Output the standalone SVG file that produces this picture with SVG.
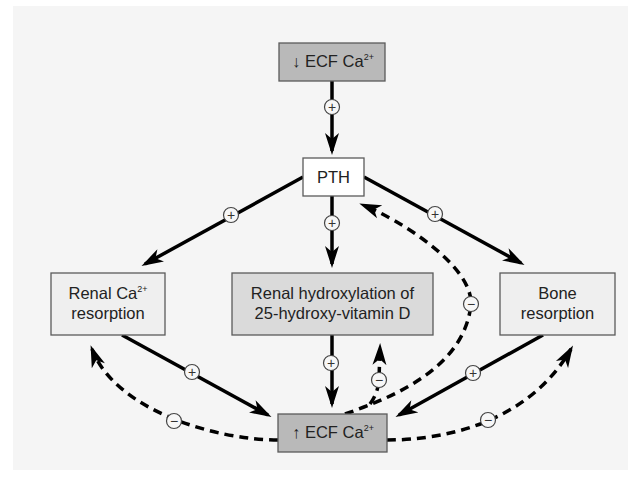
<svg xmlns="http://www.w3.org/2000/svg" width="639" height="477" viewBox="0 0 639 477">
<style>
.box{stroke:#5a5a5a;stroke-width:1.3}
.dark{fill:#b9b9b9}
.mid{fill:#dadada}
.light{fill:#efefef}
.white{fill:#ffffff}
.t{font-family:"Liberation Sans",Arial,"DejaVu Sans",sans-serif;font-size:16.5px;fill:#222;text-anchor:middle}
.sup{font-size:9px}
.ln{fill:none;stroke:#000;stroke-width:3.5;marker-end:url(#ah)}
.dash{stroke-dasharray:9 6}
.c{fill:#f7f7f7;stroke:#444;stroke-width:1.2}
.s{font-family:"Liberation Sans",Arial,"DejaVu Sans",sans-serif;font-size:14px;fill:#333;text-anchor:middle;dominant-baseline:central}
</style>
<defs>
<marker id="ah" markerUnits="userSpaceOnUse" markerWidth="22" markerHeight="16" viewBox="0 0 22 16" refX="18" refY="8" orient="auto">
<path d="M0,1 L22,8 L0,15 L6,8 Z" fill="#000"/>
</marker>
</defs>
<rect x="13" y="6" width="615" height="464" fill="#f5f5f5"/>

<g id="connectors">
<path class="ln" d="M332,81 L332,151"/>
<path class="ln" d="M303,177 L145,264"/>
<path class="ln" d="M332,196 L332,264"/>
<path class="ln" d="M364,177 L521,263"/>
<path class="ln" d="M122,335 L268,415"/>
<path class="ln" d="M332,335 L332,404"/>
<path class="ln" d="M543,335 L399,415"/>
<path class="ln dash" d="M278,440 C215,440 115,410 92,349"/>
<path class="ln dash" d="M387,440 C450,440 530,420 571,349"/>
<path class="ln dash" d="M345,414 C400,395 465,365 471,304 C472,265 400,220 363,205"/>
<path class="ln dash" d="M370,404 Q378,393 379,380 L380,347"/>
</g>

<g id="signs">
<circle class="c" cx="332" cy="107" r="7.5"/><text class="s" x="332" y="107">+</text>
<circle class="c" cx="231" cy="215" r="7.5"/><text class="s" x="231" y="215">+</text>
<circle class="c" cx="332" cy="223" r="7.5"/><text class="s" x="332" y="223">+</text>
<circle class="c" cx="435" cy="214" r="7.5"/><text class="s" x="435" y="214">+</text>
<circle class="c" cx="192" cy="372" r="7.5"/><text class="s" x="192" y="372">+</text>
<circle class="c" cx="331" cy="363" r="7.5"/><text class="s" x="331" y="363">+</text>
<circle class="c" cx="473" cy="373" r="7.5"/><text class="s" x="473" y="373">+</text>
<circle class="c" cx="471" cy="304" r="7.5"/><text class="s" x="471" y="304">−</text>
<circle class="c" cx="379" cy="380" r="7.5"/><text class="s" x="379" y="380">−</text>
<circle class="c" cx="174" cy="421" r="7.5"/><text class="s" x="174" y="421">−</text>
<circle class="c" cx="488" cy="420" r="7.5"/><text class="s" x="488" y="420">−</text>
</g>

<g id="low-ecf">
<rect class="box dark" x="279" y="43" width="106" height="38"/>
<text class="t" x="333" y="67">↓ ECF Ca<tspan class="sup" dy="-7">2+</tspan></text>
</g>
<g id="pth">
<rect class="box white" x="303" y="158" width="61" height="38"/>
<text class="t" x="333.5" y="183">PTH</text>
</g>
<g id="renal-ca">
<rect class="box light" x="51" y="273" width="114" height="62"/>
<text class="t" x="108" y="299">Renal Ca<tspan class="sup" dy="-7">2+</tspan></text>
<text class="t" x="108" y="319">resorption</text>
</g>
<g id="renal-hydroxylation">
<rect class="box mid" x="232" y="273" width="201" height="62"/>
<text class="t" x="332.5" y="299">Renal hydroxylation of</text>
<text class="t" x="332.5" y="319">25-hydroxy-vitamin D</text>
</g>
<g id="bone">
<rect class="box light" x="500" y="273" width="115" height="62"/>
<text class="t" x="557.5" y="299">Bone</text>
<text class="t" x="557.5" y="319">resorption</text>
</g>
<g id="high-ecf">
<rect class="box dark" x="278" y="414" width="109" height="38"/>
<text class="t" x="333" y="438">↑ ECF Ca<tspan class="sup" dy="-7">2+</tspan></text>
</g>
</svg>
